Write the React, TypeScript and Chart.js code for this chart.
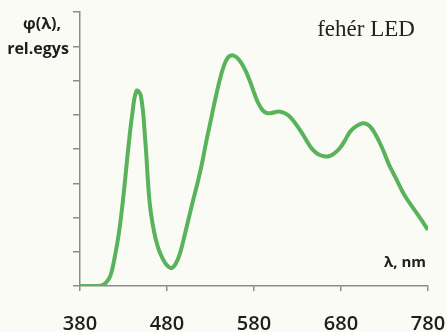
import React, { useEffect, useRef } from "react";
import { Chart, registerables } from "chart.js";
Chart.register(...registerables);

const wavelengths = [380, 385, 390, 395, 400, 405, 410, 415, 420, 425, 430, 435, 440, 445, 450, 455, 460, 465, 470, 475, 480, 485, 490, 495, 500, 505, 510, 515, 520, 525, 530, 535, 540, 545, 550, 555, 560, 565, 570, 575, 580, 585, 590, 595, 600, 605, 610, 615, 620, 625, 630, 635, 640, 645, 650, 655, 660, 665, 670, 675, 680, 685, 690, 695, 700, 705, 710, 715, 720, 725, 730, 735, 740, 745, 750, 755, 760, 765, 770, 775, 780];
const intensity = [0, 0, 0, 0, 0, 0.02, 0.1, 0.3, 0.85, 1.6, 2.65, 3.9, 5.0, 5.7, 5.55, 4.25, 2.45, 1.6, 1.1, 0.8, 0.6, 0.52, 0.65, 0.96, 1.45, 1.98, 2.5, 3.0, 3.55, 4.2, 4.8, 5.4, 5.95, 6.4, 6.67, 6.74, 6.68, 6.53, 6.3, 6.0, 5.65, 5.33, 5.13, 5.05, 5.05, 5.08, 5.09, 5.05, 4.97, 4.83, 4.66, 4.47, 4.26, 4.06, 3.92, 3.83, 3.79, 3.78, 3.83, 3.93, 4.07, 4.27, 4.49, 4.62, 4.7, 4.75, 4.72, 4.61, 4.41, 4.16, 3.87, 3.55, 3.3, 3.05, 2.79, 2.57, 2.38, 2.2, 2.02, 1.83, 1.64];
const xTicks = [380, 480, 580, 680, 780];
const yMax = 8;
const titleText = "fehér LED";
const yLabel = ["φ(λ),", "rel.egys"];
const xLabel = "λ, nm";

const AXIS = "#8c8c8c";

const bgPlugin = {
  id: "bg",
  beforeDraw(chart: any) {
    const { ctx, width, height } = chart;
    ctx.save();
    ctx.fillStyle = "#fbfbf5";
    ctx.fillRect(0, 0, width, height);
    ctx.restore();
  },
};

const textPlugin = {
  id: "texts",
  afterDraw(chart: any) {
    const { ctx, chartArea } = chart;
    ctx.save();
    ctx.fillStyle = "#1e1e1e";
    ctx.textAlign = "center";
    ctx.textBaseline = "middle";
    ctx.font = 'bold 16px "Open Sans"';
    ctx.fillText(yLabel[0], 42, 24);
    ctx.fillText(yLabel[1], 38, 49);
    ctx.font = 'bold 15px "Open Sans"';
    ctx.fillText(xLabel, chartArea.right - 23, chartArea.bottom - 23);
    ctx.font = '23px "Liberation Serif"';
    ctx.fillStyle = "#222";
    ctx.fillText(titleText, chartArea.right - 62, 30);
    ctx.restore();
  },
};

export default function App() {
  const ref = useRef<HTMLCanvasElement>(null);
  useEffect(() => {
    if (!ref.current) return;
    const chart = new Chart(ref.current, {
      type: "line",
      data: {
        datasets: [
          {
            data: wavelengths.map((w, i) => ({ x: w, y: intensity[i] })),
            borderColor: "#58b35c",
            borderWidth: 4,
            pointRadius: 0,
            tension: 0.4,
            fill: false,
          },
        ],
      },
      options: {
        animation: false,
        responsive: true,
        maintainAspectRatio: false,
        layout: { padding: { left: 0, top: 12, right: 18, bottom: 0 } },
        plugins: { legend: { display: false }, tooltip: { enabled: false }, title: { display: false } },
        scales: {
          x: {
            type: "linear",
            min: 380,
            max: 780,
            afterBuildTicks: (s: any) => {
              s.ticks = xTicks.map((v) => ({ value: v }));
            },
            afterFit: (s: any) => {
              s.height = 46;
              s.paddingLeft = 0;
              s.paddingRight = 0;
            },
            ticks: {
              color: "#1e1e1e",
              font: { family: "Open Sans", size: 20, weight: "600" },
              padding: 21,
              maxRotation: 0,
              autoSkip: false,
            },
            grid: { drawOnChartArea: false, drawTicks: true, tickLength: 5, color: AXIS, lineWidth: 1.5 },
            border: { display: true, color: AXIS, width: 1.5 },
          },
          y: {
            min: 0,
            max: yMax,
            afterFit: (s: any) => {
              s.width = 80;
              s.paddingTop = 0;
              s.paddingBottom = 0;
            },
            ticks: { stepSize: 1, display: false },
            grid: { drawOnChartArea: false, drawTicks: true, tickLength: 7, color: AXIS, lineWidth: 1.5 },
            border: { display: true, color: AXIS, width: 1.5 },
          },
        },
      },
      plugins: [bgPlugin, textPlugin],
    });
    return () => chart.destroy();
  }, []);
  return (
    <div style={{ position: "absolute", left: 0, top: 0, width: 446, height: 332 }}>
      <canvas ref={ref} />
    </div>
  );
}
